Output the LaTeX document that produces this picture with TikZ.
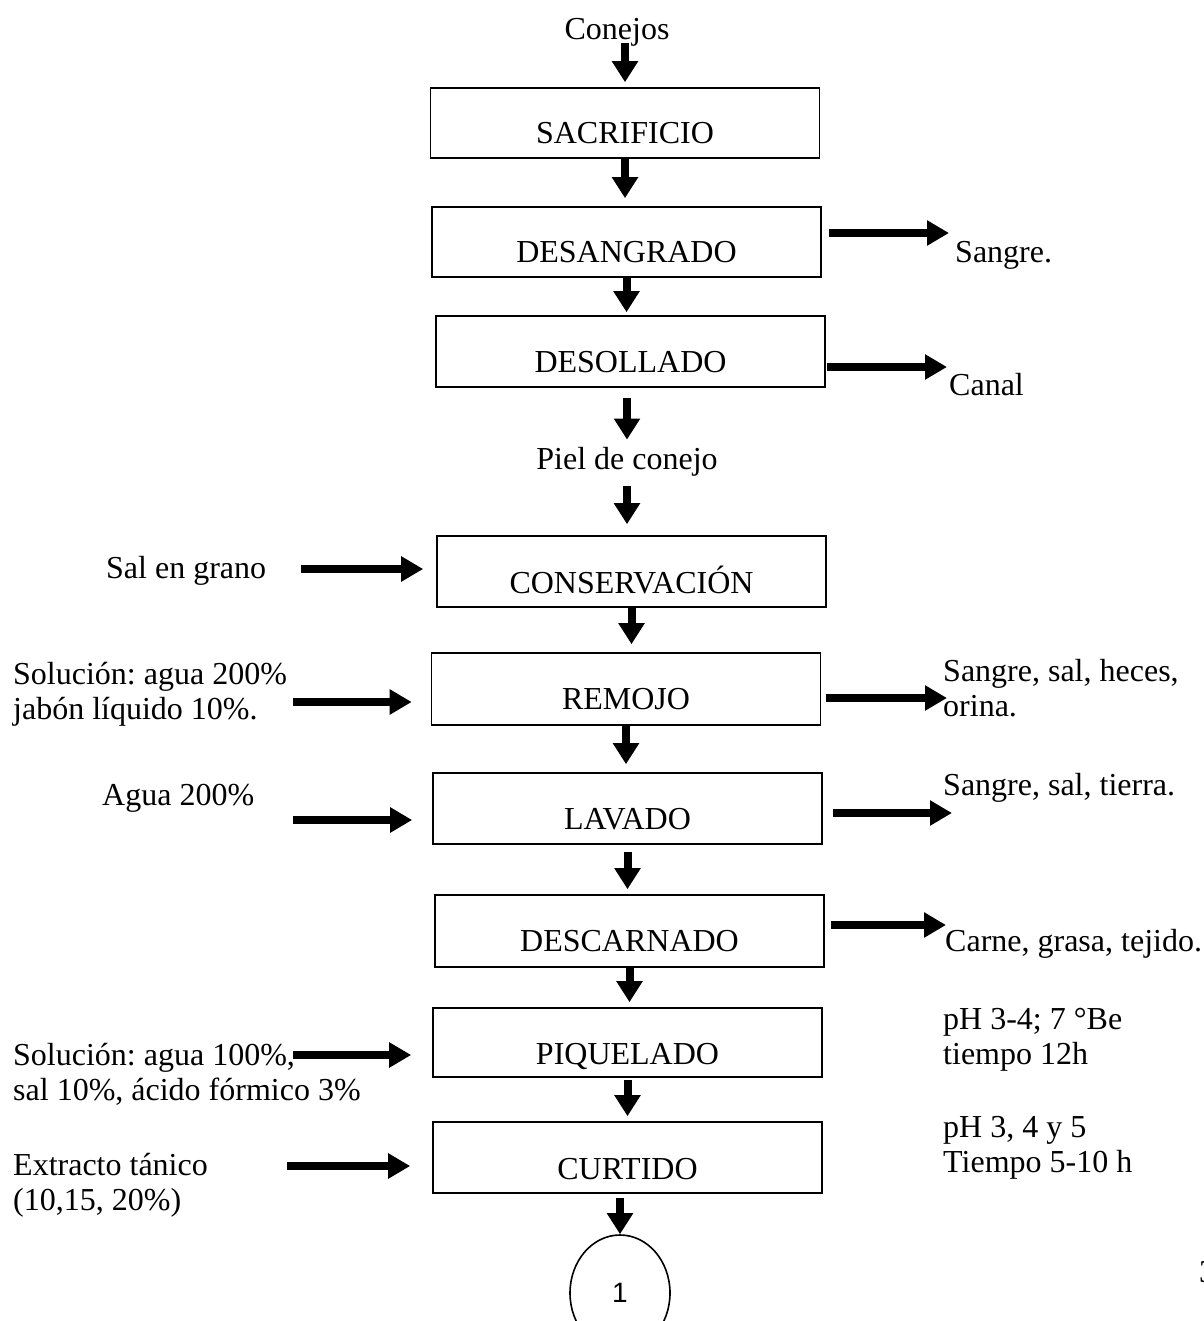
\documentclass[tikz,border=0pt]{standalone}
\usepackage{fontspec}
\setmainfont{Liberation Serif}
\newfontfamily\sansf{Liberation Sans}
\usetikzlibrary{arrows.meta,shapes.geometric}
\frenchspacing
\begin{document}
\begin{tikzpicture}[x=1pt,y=-1pt,
  box/.style={draw, line width=1.6pt, inner sep=0pt, minimum width=389pt},
  txt/.style={inner sep=0pt, font=\fontsize{32}{34.5}\selectfont},
  mtxt/.style={txt, align=left, anchor=base west},
  varrow/.style={line width=8pt, -{Triangle[length=21pt,width=25pt]}},
  harrow/.style={line width=8pt, -{Triangle[length=22pt,width=24pt]}},
]
\useasboundingbox (0,0) rectangle (1203,1321);

% ---- boxes ----
\node[box, minimum height=70pt] (sac)    at (625,123)    {};
\node[box, minimum height=70pt] (desang) at (626.5,242)  {};
\node[box, minimum height=71pt] (desoll) at (630.5,351.5){};
\node[box, minimum height=71pt] (cons)   at (631.5,571.5){};
\node[box, minimum height=72pt] (rem)    at (626,689)    {};
\node[box, minimum height=71pt] (lav)    at (627.5,808.5){};
\node[box, minimum height=72pt] (desc)   at (629.5,931)  {};
\node[box, minimum height=69pt] (piq)    at (627.5,1042.5){};
\node[box, minimum height=71pt] (cur)    at (627.5,1157.5){};
\node[draw, ellipse, line width=1.6pt, minimum width=100pt, minimum height=116pt, inner sep=0pt,
      font=\sansf\fontsize{28}{30}\selectfont] (c1) at (620,1293) {1};

% ---- box labels ----
\node[txt, anchor=base] (sacT)    at (sac.center    |- 0,144)  {SACRIFICIO};
\node[txt, anchor=base] (desangT) at (desang.center |- 0,263)  {DESANGRADO};
\node[txt, anchor=base] (desollT) at (desoll.center |- 0,372)  {DESOLLADO};
\node[txt, anchor=base] (consT)   at (cons.center   |- 0,593)  {CONSERVACIÓN};
\node[txt, anchor=base] (remT)    at (rem.center    |- 0,709)  {REMOJO};
\node[txt, anchor=base] (lavT)    at (lav.center    |- 0,829)  {LAVADO};
\node[txt, anchor=base] (descT)   at (desc.center   |- 0,951)  {DESCARNADO};
\node[txt, anchor=base] (piqT)    at (piq.center    |- 0,1064) {PIQUELADO};
\node[txt, anchor=base] (curT)    at (cur.center    |- 0,1179) {CURTIDO};

% ---- other texts ----
\node[txt, anchor=base] (conejos) at (617,40) {Conejos};
\node[txt, anchor=base] (piel) at (627,469) {Piel de conejo};
\node[mtxt] (sangre) at (955,263) {Sangre.};
\node[mtxt] (canal)  at (949,395) {Canal};
\node[mtxt] (sal)    at (106,578) {Sal en grano};
\node[mtxt] (sol1)   at (13,719)  {Solución: agua 200\%\\jabón líquido 10\%.};
\node[mtxt] (out1)   at (943,716) {Sangre, sal, heces,\\orina.};
\node[mtxt] (agua)   at (102,805) {Agua 200\%};
\node[mtxt] (out2)   at (943,795) {Sangre, sal, tierra.};
\node[mtxt] (out3)   at (945,951) {Carne, grasa, tejido.};
\node[mtxt] (sol2)   at (13,1100) {Solución: agua 100\%,\\sal 10\%, ácido fórmico 3\%};
\node[mtxt] (phA)    at (943,1064) {pH 3-4; 7 °Be\\tiempo 12h};
\node[mtxt] (ext)    at (13,1210) {Extracto tánico\\(10,15, 20\%)};
\node[mtxt] (phB)    at (943,1172) {pH 3, 4 y 5\\Tiempo 5-10 h};
\node[mtxt] (pg)     at (1199,1282) {3};

% ---- vertical arrows ----
\draw[varrow, shorten >=5pt] ([yshift=-3pt]conejos.base -| sac.north) -- (sac.north);
\draw[varrow, shorten >=8pt] (sac.south) -- (sac.south |- desang.north);
\draw[varrow, shorten >=3pt] (desang.south) -- (desang.south |- desoll.north);
\draw[varrow, shorten <=10pt, shorten >=7pt] (desoll.south -| piel.north) -- (piel.north);
\draw[varrow, shorten <=10pt, shorten >=11pt] (piel.south) -- (piel.south |- cons.north);
\draw[varrow, shorten >=8pt] (cons.south) -- (cons.south |- rem.north);
\draw[varrow, shorten >=8pt] (rem.south) -- (rem.south |- lav.north);
\draw[varrow, shorten <=7pt, shorten >=5pt] (lav.south) -- (lav.south |- desc.north);
\draw[varrow, shorten >=5pt] (desc.south) -- (desc.south |- piq.north);
\draw[varrow, shorten <=2pt, shorten >=5pt] (piq.south) -- (piq.south |- cur.north);
\draw[varrow, shorten <=4pt] (cur.south -| c1.north) -- (c1.north);

% ---- horizontal arrows: outputs ----
\coordinate (e1) at (949,233);
\coordinate (e2) at (947,367);
\coordinate (e3) at (947,698);
\coordinate (e4) at (952,813);
\coordinate (e5) at (946,925);
\draw[harrow, shorten <=7pt] (e1 -| desang.east) -- (e1);
\draw[harrow, shorten <=1pt] (e2 -| desoll.east) -- (e2);
\draw[harrow, shorten <=5pt] (e3 -| rem.east) -- (e3);
\draw[harrow, shorten <=10pt] (e4 -| lav.east) -- (e4);
\draw[harrow, shorten <=6pt] (e5 -| desc.east) -- (e5);

% ---- horizontal arrows: inputs ----
\coordinate (s1) at (301,569);
\coordinate (s2) at (293,702);
\coordinate (s3) at (293,820);
\coordinate (s4) at (293,1055);
\coordinate (s5) at (287,1166);
\draw[harrow, shorten >=13pt] (s1) -- (s1 -| cons.west);
\draw[harrow, shorten >=19pt] (s2) -- (s2 -| rem.west);
\draw[harrow, shorten >=20pt] (s3) -- (s3 -| lav.west);
\draw[harrow, shorten >=21pt] (s4) -- (s4 -| piq.west);
\draw[harrow, shorten >=22pt] (s5) -- (s5 -| cur.west);
\end{tikzpicture}
\end{document}
